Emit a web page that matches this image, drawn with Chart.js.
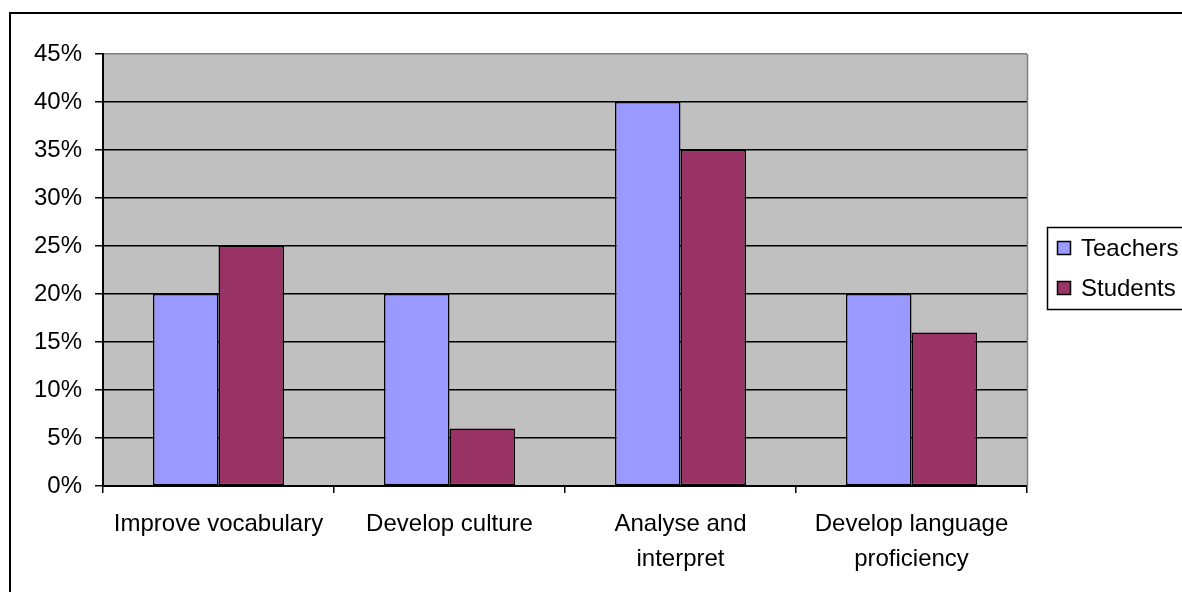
<!DOCTYPE html>
<html>
<head>
<meta charset="utf-8">
<script src="https://cdn.jsdelivr.net/npm/chart.js@4"></script>
<style>
    html, body { margin: 0; padding: 0; background: #fff; overflow: hidden; }
    canvas { display: block; }
</style>
</head>
<body>
<canvas id="chart" width="1182" height="592"></canvas>
<script>
const categories = [
    'Improve vocabulary',
    'Develop culture',
    ['Analyse and', 'interpret'],
    ['Develop language', 'proficiency']
];
const seriesNames = ['Teachers', 'Students'];
const teachers = [20, 20, 40, 20];
const students = [25, 6, 35, 16];
const yTicks = [0, 5, 10, 15, 20, 25, 30, 35, 40, 45];
const colors = ['#9999FF', '#993366'];

const FONT = '"Liberation Sans", Arial, sans-serif';

// gray plot area + outer frame + boxed legend (Excel style)
const excelLook = {
    id: 'excelLook',
    beforeDraw(chart) {
        const { ctx, chartArea: a } = chart;
        ctx.save();
        ctx.fillStyle = '#C0C0C0';
        ctx.fillRect(a.left, a.top, a.right - a.left, a.bottom - a.top);
        ctx.restore();
    },
    afterDraw(chart) {
        const { ctx, chartArea: a } = chart;
        ctx.save();
        // plot area right edge
        ctx.strokeStyle = '#808080';
        ctx.lineWidth = 1.5;
        ctx.beginPath();
        ctx.moveTo(a.right + 0.5, a.top);
        ctx.lineTo(a.right + 0.5, a.bottom);
        ctx.stroke();

        // outer chart frame, runs off the right and bottom edges
        ctx.strokeStyle = '#000';
        ctx.lineWidth = 2;
        ctx.strokeRect(10, 13, 1300, 700);

        // legend
        const lx = 1047, ly = 227;
        ctx.lineWidth = 1.5;
        ctx.strokeRect(lx + 0.5, ly + 0.5, 200, 82);
        ctx.font = '24px ' + FONT;
        ctx.textBaseline = 'middle';
        chart.data.datasets.forEach((ds, i) => {
            const cy = 248 + i * 40;
            ctx.fillStyle = ds.backgroundColor;
            ctx.fillRect(1057, cy - 7, 14, 14);
            ctx.lineWidth = 1.5;
            ctx.strokeStyle = '#000';
            ctx.strokeRect(1057.5, cy - 6.5, 13, 13);
            ctx.fillStyle = '#000';
            ctx.fillText(ds.label, 1081, cy + 1);
        });
        ctx.restore();
    }
};

new Chart(document.getElementById('chart'), {
    type: 'bar',
    data: {
        labels: categories,
        datasets: [{
            label: seriesNames[0],
            data: teachers,
            backgroundColor: colors[0],
            borderColor: '#000',
            borderWidth: 1.5,
            borderSkipped: false,
            categoryPercentage: 0.567,
            barPercentage: 1
        }, {
            label: seriesNames[1],
            data: students,
            backgroundColor: colors[1],
            borderColor: '#000',
            borderWidth: 1.5,
            borderSkipped: false,
            categoryPercentage: 0.567,
            barPercentage: 1
        }]
    },
    options: {
        responsive: false,
        animation: false,
        devicePixelRatio: 1,
        layout: { padding: { top: 54, right: 155, left: 0, bottom: 0 } },
        plugins: {
            legend: { display: false },
            tooltip: { enabled: false }
        },
        scales: {
            x: {
                afterFit: scale => { scale.height = 106; },
                grid: {
                    offset: true,
                    drawOnChartArea: false,
                    drawTicks: true,
                    tickLength: 7,
                    lineWidth: 1.5,
                    color: '#000'
                },
                border: { color: '#000', width: 2 },
                ticks: {
                    color: '#000',
                    padding: 14,
                    maxRotation: 0,
                    autoSkip: false,
                    font: { family: FONT, size: 24, lineHeight: 1.45 }
                }
            },
            y: {
                min: 0,
                max: 45,
                afterFit: scale => { scale.width = 103; },
                afterBuildTicks: scale => { scale.ticks = yTicks.map(v => ({ value: v })); },
                grid: {
                    color: ctx => (ctx.tick && ctx.tick.value === 45 ? '#808080' : '#000'),
                    tickColor: '#000',
                    tickLength: 8,
                    lineWidth: 1.5,
                    drawTicks: true
                },
                border: { color: '#000', width: 2 },
                ticks: {
                    color: '#000',
                    padding: 13,
                    font: { family: FONT, size: 24 },
                    callback: v => v + '%'
                }
            }
        }
    },
    plugins: [excelLook]
});
</script>
</body>
</html>
